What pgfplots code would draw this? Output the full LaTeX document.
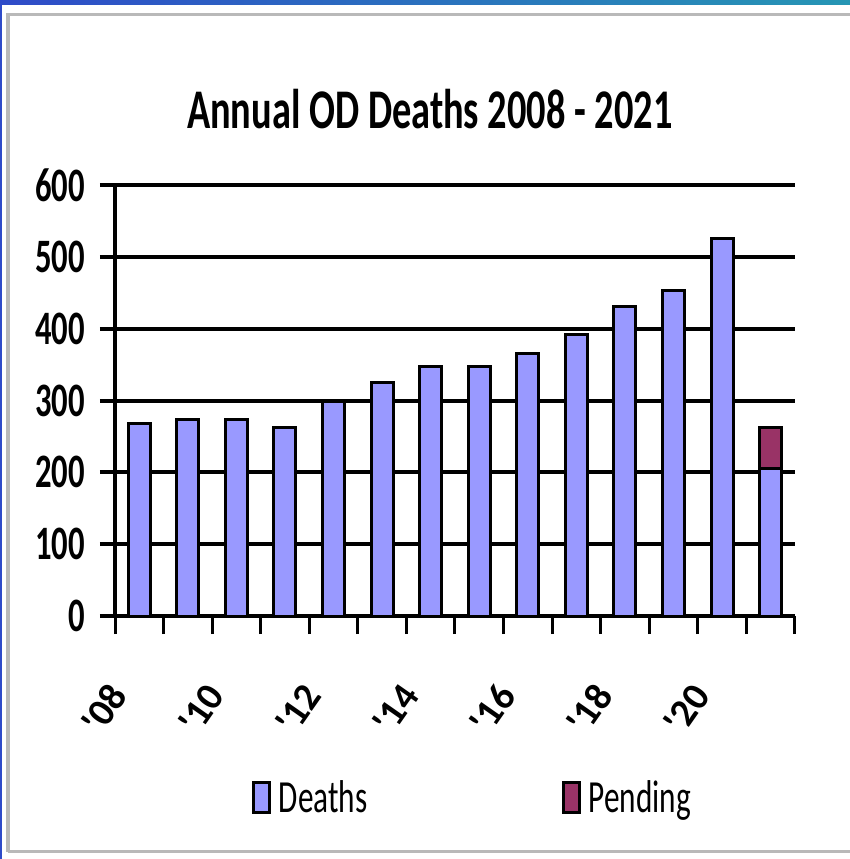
\documentclass[border=0pt]{standalone}
\usepackage{pgfplots}
\pgfplotsset{compat=1.18}
\usepackage{fontspec}
\newfontfamily\cfont[FakeStretch=0.68]{Carlito}
\newfontfamily\tfont[FakeStretch=0.685]{Carlito}
\newfontfamily\xfont{Carlito}
\definecolor{deaths}{RGB}{153,153,255}
\definecolor{pending}{RGB}{153,51,102}
\definecolor{bandL}{RGB}{47,75,200}
\definecolor{bandR}{RGB}{38,150,180}
\definecolor{framegray}{RGB}{185,185,185}
\pgfplotsset{mylegend/.style={legend image code/.code={\draw[##1, line width=1.5pt] (0pt,-7.5pt) rectangle (8pt,7.5pt);}}}
\begin{document}
\begin{tikzpicture}
\path[use as bounding box] (0,0) rectangle (425pt,429.5pt);
\shade[left color=bandL, right color=bandR] (0,427pt) rectangle (425pt,429.5pt);
\fill[bandL] (0,0) rectangle (1pt,429.5pt);
\draw[framegray, line width=1.5pt] (4pt,3.5pt) -- (4pt,422pt) -- (430pt,422pt);
\draw[framegray, line width=1.5pt] (4pt,3.5pt) -- (430pt,3.5pt);
\begin{axis}[
  at={(57.5pt,121.5pt)}, anchor=south west,
  scale only axis, width=340pt, height=215.5pt,
  xmin=-0.5, xmax=13.5, ymin=0, ymax=600,
  axis x line*=bottom, axis y line*=left,
  axis line style={line width=2pt, -},
  ytick={0,100,...,600},
  ymajorgrids, grid style={black, line width=2pt},
  ytick style={black, line width=2pt},
  major tick length=7.5pt,
  tick align=outside,
  xtick={0,2,...,12},
  xticklabels={'08,'10,'12,'14,'16,'18,'20},
  xtick style={draw=none},
  minor xtick={-0.5,0.5,...,13.5},
  minor x tick style={draw=black, line width=1.5pt},
  minor tick length=9pt,
  /pgf/number format/assume math mode=true,
  ticklabel style={font=\cfont\bfseries\fontsize{24}{24}\selectfont},
  yticklabel style={xshift=-4pt},
  xticklabel style={font=\xfont\bfseries\fontsize{19.5}{19.5}\selectfont, xshift=-8.6pt, yshift=-26pt, rotate=55, anchor=east},
  title={Annual OD Deaths 2008 - 2021},
  title style={font=\tfont\bfseries\fontsize{28}{28}\selectfont, at={(0.463,1.103)}, anchor=base},
  legend style={draw=none, at={(0.527,-0.422)}, anchor=center, legend columns=2,
    font=\cfont\fontsize{23}{23}\selectfont,
    /tikz/every even column/.append style={column sep=95pt},
    /tikz/every odd column/.append style={column sep=2pt}},
  ybar, bar shift=0pt, bar width=11pt,
  mylegend,
  clip=false,
]
\addplot[ybar, mylegend, fill=pending, draw=black, line width=1.5pt, forget plot] coordinates {(13,262)};
\addplot[ybar, mylegend, fill=deaths, draw=black, line width=1.5pt] coordinates {
(0,268) (1,274) (2,274) (3,263) (4,299) (5,325) (6,347) (7,347) (8,365) (9,392) (10,431) (11,453) (12,526) (13,205)};
\addlegendentry{Deaths}
\addlegendimage{mylegend, fill=pending, draw=black}
\addlegendentry{Pending}
\end{axis}
\end{tikzpicture}
\end{document}
